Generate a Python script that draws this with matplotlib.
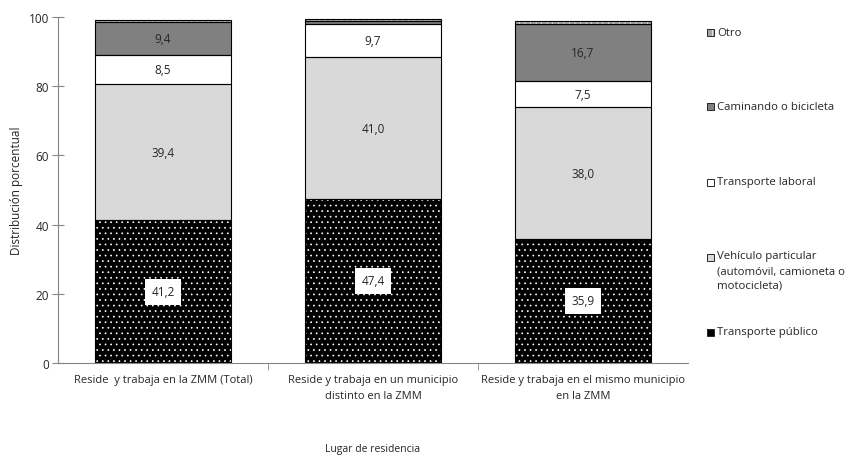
import numpy as np
import matplotlib
matplotlib.use("Agg")
import matplotlib.pyplot as plt
from matplotlib.patches import Rectangle

plt.rcParams['font.family'] = ['Open Sans', 'DejaVu Sans']
plt.rcParams['hatch.linewidth'] = 0.5

# Datos
categorias = ["Reside  y trabaja en la ZMM (Total)",
              "Reside y trabaja en un municipio\ndistinto en la ZMM",
              "Reside y trabaja en el mismo municipio\nen la ZMM"]
transporte_publico = [41.2, 47.4, 35.9]
vehiculo_particular = [39.4, 41.0, 38.0]
transporte_laboral = [8.5, 9.7, 7.5]
caminando_bicicleta = [9.4, 0.8, 16.7]
otro = [0.7, 0.6, 0.8]

etiquetas_leyenda = ["Otro", "Caminando o bicicleta", "Transporte laboral",
                     "Vehículo particular\n(automóvil, camioneta o\nmotocicleta)",
                     "Transporte público"]

fig = plt.figure(figsize=(8.5, 4.56), dpi=100)
ax = fig.add_axes([58 / 850, 92 / 456, 630 / 850, 346 / 456])

x = np.arange(len(categorias))
ancho = 0.643
gris_eje = "#868686"
texto_color = "#262626"

series = [
    (transporte_publico, dict(color="black", edgecolor="white", hatch="...")),
    (vehiculo_particular, dict(color="#d9d9d9")),
    (transporte_laboral, dict(color="white")),
    (caminando_bicicleta, dict(color="#808080")),
    (otro, dict(color="#a6a6a6", edgecolor="white", hatch="|||")),
]

base = np.zeros(len(categorias))
for i, (valores, estilo) in enumerate(series):
    valores = np.array(valores)
    ax.bar(x, valores, ancho, bottom=base, linewidth=0, zorder=2, **estilo)
    ax.bar(x, valores, ancho, bottom=base, fill=False, edgecolor="black",
           linewidth=0.8, zorder=3)
    for j, v in enumerate(valores):
        if v < 3:
            continue
        texto = f"{v:.1f}".replace(".", ",")
        caja = None
        if i == 0:
            caja = dict(boxstyle="square,pad=0.55", facecolor="white",
                        edgecolor="none")
        ax.text(x[j], base[j] + v / 2, texto, ha="center", va="center",
                fontsize=8.5, color=texto_color, bbox=caja, zorder=4)
    base = base + valores

ax.set_xlim(-0.5, 2.5)
ax.set_ylim(0, 100)
ax.set_yticks(range(0, 101, 20))
ax.set_xticks(x)
ax.set_xticklabels(categorias, fontsize=8, color=texto_color, linespacing=1.55)
ax.set_xticks([0.5, 1.5], minor=True)
ax.tick_params(axis="x", which="major", length=0, pad=8)
ax.tick_params(axis="x", which="minor", length=5, color=gris_eje, direction="out")
ax.tick_params(axis="y", direction="inout", length=9, color=gris_eje,
               labelsize=8.5, labelcolor=texto_color, pad=2)
for lado in ["top", "right"]:
    ax.spines[lado].set_visible(False)
for lado in ["left", "bottom"]:
    ax.spines[lado].set_color(gris_eje)
    ax.spines[lado].set_linewidth(0.8)

ax.set_ylabel("Distribución porcentual", fontsize=8.5, color=texto_color, labelpad=4)
fig.text(373 / 850, 1 - 450 / 456, "Lugar de residencia", ha="center",
         va="center", fontsize=7.5, color=texto_color)

# Leyenda manual
estilos_leyenda = [series[4][1], series[3][1], series[2][1], series[1][1], series[0][1]]
y_leyenda = [33, 107, 183, 258, 333]
for k, (etiqueta, estilo, yp) in enumerate(zip(etiquetas_leyenda, estilos_leyenda, y_leyenda)):
    fy = 1 - yp / 456
    color = "black" if k == 4 else estilo["color"]
    relleno = Rectangle((707 / 850, fy - 3.5 / 456), 7 / 850, 7 / 456,
                        transform=fig.transFigure, facecolor=color,
                        edgecolor="white" if k == 0 else "none",
                        hatch="||" if k == 0 else None, linewidth=0, zorder=2)
    fig.patches.append(relleno)
    fig.patches.append(Rectangle((707 / 850, fy - 3.5 / 456), 7 / 850, 7 / 456,
                                 transform=fig.transFigure, fill=False,
                                 edgecolor=texto_color, linewidth=0.7, zorder=3))
    if "\n" in etiqueta:
        fig.text(717 / 850, fy + 6.5 / 456, etiqueta, ha="left", va="top",
                 fontsize=8.2, color=texto_color, linespacing=1.45)
    else:
        fig.text(717 / 850, fy, etiqueta, ha="left", va="center",
                 fontsize=8.2, color=texto_color)

fig.savefig("out.png", dpi=100)
